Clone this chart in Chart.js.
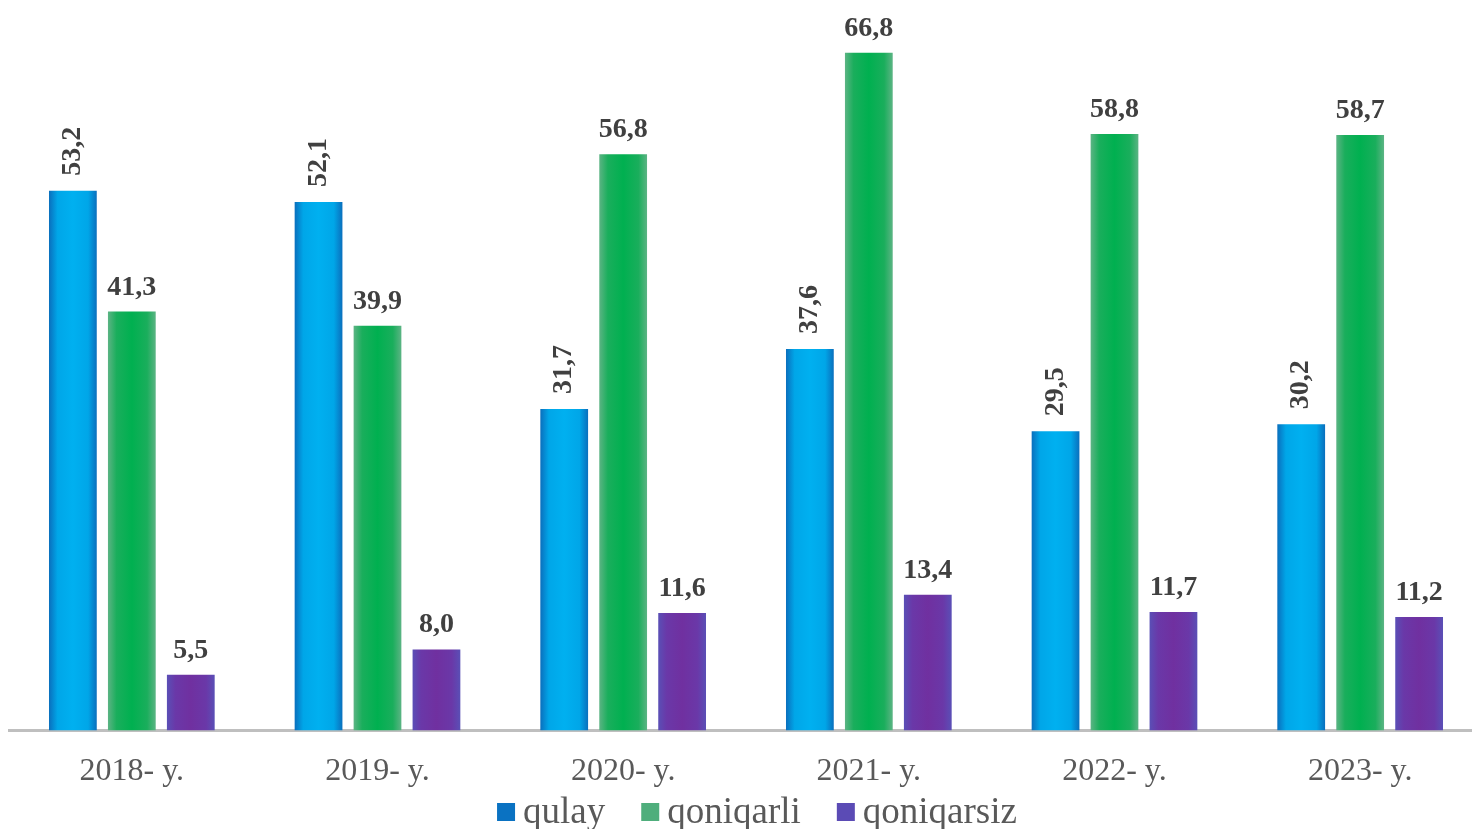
<!DOCTYPE html>
<html>
<head>
<meta charset="utf-8">
<script src="https://cdn.jsdelivr.net/npm/chart.js@4/dist/chart.umd.min.js"></script>
<style>
html, body { margin: 0; padding: 0; background: #fff; overflow: hidden; }
</style>
</head>
<body>
<canvas id="myChart" width="1483" height="829"></canvas>
<script>
var years = ["2018- y.", "2019- y.", "2020- y.", "2021- y.", "2022- y.", "2023- y."];
var qulay = [53.2, 52.1, 31.7, 37.6, 29.5, 30.2];
var qoniqarli = [41.3, 39.9, 56.8, 66.8, 58.8, 58.7];
var qoniqarsiz = [5.5, 8.0, 11.6, 13.4, 11.7, 11.2];
var seriesNames = ["qulay", "qoniqarli", "qoniqarsiz"];

var serif = '"Liberation Serif", "Times New Roman", serif';
var catPct = 0.72, barPct = 0.81;

// horizontal gradient across each bar (edge, center, edge)
function barFill(edge, mid, center) {
  return function(ctx) {
    var chart = ctx.chart;
    var xs = chart.scales.x;
    if (ctx.type !== 'data' || !xs) return center;
    var slot = (xs.width / years.length) * catPct / 3;
    var w = slot * barPct;
    var cx = xs.getPixelForValue(ctx.dataIndex) + (ctx.datasetIndex - 1) * slot;
    if (!isFinite(cx) || !isFinite(w) || w <= 0) return center;
    var g = chart.ctx.createLinearGradient(cx - w / 2, 0, cx + w / 2, 0);
    g.addColorStop(0, edge);
    g.addColorStop(0.18, mid);
    g.addColorStop(0.5, center);
    g.addColorStop(0.82, mid);
    g.addColorStop(1, edge);
    return g;
  };
}

var legendColors = ["#0a72c2", "#4fae7c", "#5b4bb5"];

var valueLabels = {
  id: 'valueLabels',
  afterDatasetsDraw: function(chart) {
    var c = chart.ctx;
    c.save();
    c.fillStyle = '#404040';
    c.font = 'bold 28px ' + serif;
    chart.data.datasets.forEach(function(ds, di) {
      chart.getDatasetMeta(di).data.forEach(function(bar, i) {
        var txt = ds.data[i].toFixed(1).replace('.', ',');
        if (di === 0) {
          c.save();
          c.translate(bar.x, bar.y - 15);
          c.rotate(-Math.PI / 2);
          c.textAlign = 'left';
          c.textBaseline = 'middle';
          c.fillText(txt, 0, 0);
          c.restore();
        } else {
          c.textAlign = 'center';
          c.textBaseline = 'alphabetic';
          c.fillText(txt, bar.x, bar.y - 17);
        }
      });
    });
    c.restore();
  }
};

var bottomLegend = {
  id: 'bottomLegend',
  afterDraw: function(chart) {
    var c = chart.ctx;
    c.save();
    c.font = '37px ' + serif;
    c.textBaseline = 'middle';
    c.textAlign = 'left';
    var box = 18, gap = 8, between = 36;
    var widths = seriesNames.map(function(n) { return box + gap + c.measureText(n).width; });
    var total = widths.reduce(function(a, b) { return a + b; }, 0) + between * (widths.length - 1);
    var x = 757 - total / 2;
    var y = 812;
    seriesNames.forEach(function(n, i) {
      c.fillStyle = legendColors[i];
      c.fillRect(x, y - box / 2, box, box);
      c.fillStyle = '#595959';
      c.fillText(n, x + box + gap, y + 1);
      x += widths[i] + between;
    });
    c.restore();
  }
};

new Chart("myChart", {
  type: "bar",
  data: {
    labels: years,
    datasets: [{
      label: seriesNames[0],
      data: qulay,
      backgroundColor: barFill("#0a6fbd", "#00a6e8", "#00b0f0")
    }, {
      label: seriesNames[1],
      data: qoniqarli,
      backgroundColor: barFill("#5cb484", "#1aae5c", "#00b050")
    }, {
      label: seriesNames[2],
      data: qoniqarsiz,
      backgroundColor: barFill("#5a4fb6", "#6a38a8", "#7030a0")
    }]
  },
  plugins: [valueLabels, bottomLegend],
  options: {
    responsive: false,
    animation: false,
    categoryPercentage: catPct,
    barPercentage: barPct,
    borderWidth: 0,
    layout: {
      padding: { top: 0, left: 9, right: 0, bottom: 24 }
    },
    plugins: {
      legend: { display: false },
      tooltip: { enabled: false }
    },
    scales: {
      x: {
        grid: { display: false },
        border: { display: true, color: "#bfbfbf", width: 3 },
        ticks: {
          color: "#595959",
          padding: 14,
          font: { family: serif, size: 32 }
        }
      },
      y: {
        display: false,
        min: 0,
        max: 72
      }
    }
  }
});
</script>
</body>
</html>
